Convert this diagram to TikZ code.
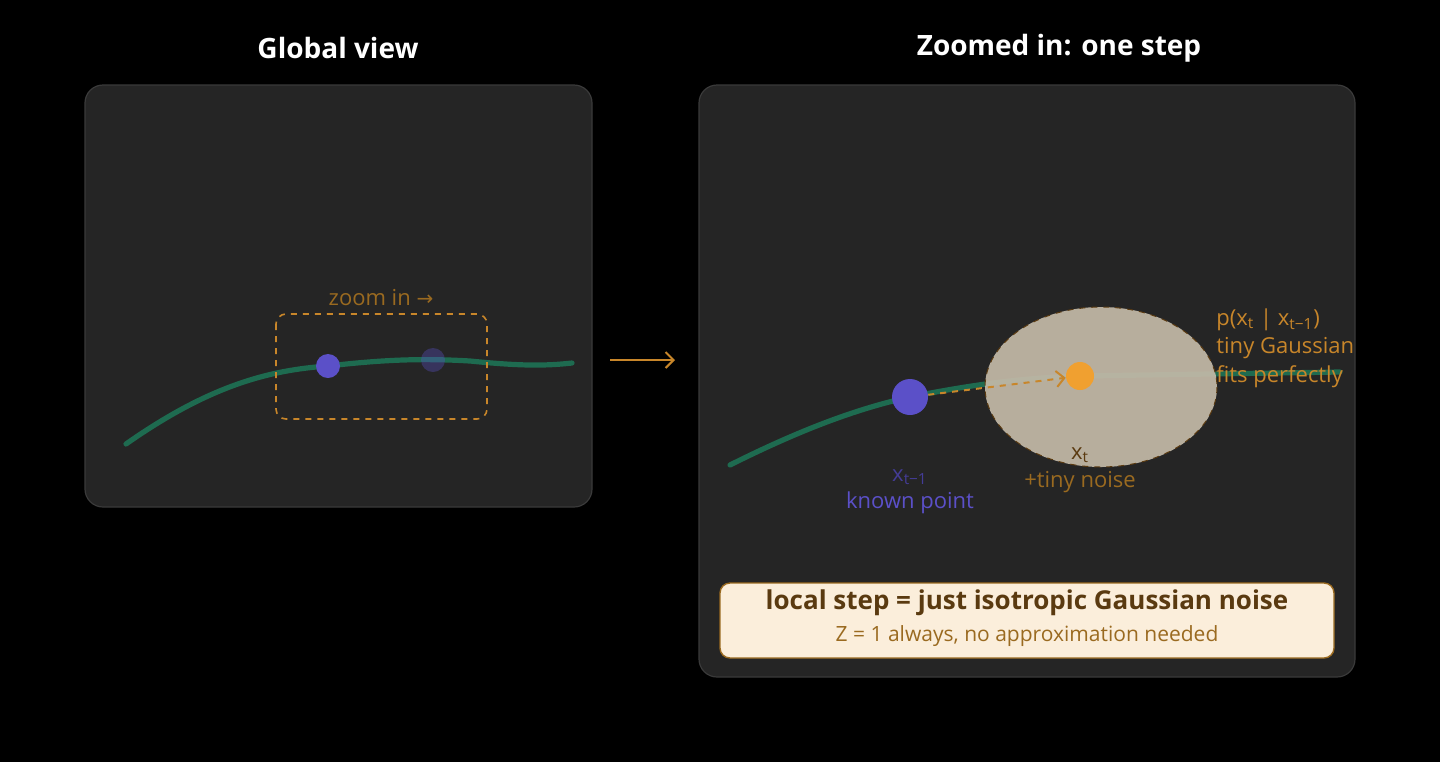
\documentclass[tikz,border=0pt]{standalone}
\usepackage{fontspec}
\setmainfont{Open Sans}
\newfontfamily\symfont{DejaVu Sans}
\usetikzlibrary{arrows.meta}
\definecolor{bgpanel}{HTML}{252525}
\definecolor{edgepanel}{HTML}{3A3A3A}
\definecolor{curvegreen}{HTML}{1E6B50}
\definecolor{ptblue}{HTML}{5B50C8}
\definecolor{ptorange}{HTML}{F0A030}
\definecolor{amber}{HTML}{C8862A}
\definecolor{darkamber}{HTML}{9A6A20}
\definecolor{brown}{HTML}{5A3A10}
\definecolor{cloud}{HTML}{C4BAA8}
\definecolor{cream}{HTML}{FBEEDB}
\tikzset{
  panel/.style={draw=edgepanel,fill=bgpanel,rounded corners=9pt,line width=0.6pt},
  title/.style={font=\fontsize{14}{16}\selectfont\bfseries,text=white},
  path/.style={draw=curvegreen,line width=2.6pt,line cap=round},
  lbl/.style={font=\fontsize{11}{13}\selectfont,inner sep=0pt}
}
\begin{document}
\begin{tikzpicture}[x=0.5pt,y=-0.5pt]
		\fill[black] (0,0) rectangle (1440,762);
		\useasboundingbox (0,0) rectangle (1440,762);
		% panels
		\draw[panel] (85,85) rectangle (592,507);
		\draw[panel] (699,85) rectangle (1355,677);
		\node[title] (tglobal) at (338,48) {Global view};
		\node[title] (tzoom) at (1059,48) {Zoomed in: one step};
		% global view
		\draw[path] (126,444) .. controls (210,385) and (270,370) .. (328,366) .. controls (380,360) and (420,358) .. (470,361) .. controls (520,366) and (545,366) .. (572,363);
		\fill[ptblue] (328,366) circle (12);
		\fill[ptblue,opacity=0.35] (433,360) circle (12);
		\draw[amber,dashed,line width=0.8pt,rounded corners=5pt] (276,314) rectangle (487,419);
		\node[lbl,text=darkamber] (zoomlbl) at (381,298) {zoom in {\symfont\fontsize{10}{12}\selectfont →}};
		\coordinate (g1) at (610,360);
		\coordinate (g2) at (675,360);
		\draw[amber,line width=1pt,-{Straight Barb[length=4pt]}] (g1) -- (g2);
		% zoomed view
		\draw[path] (730,465) .. controls (790,435) and (850,410) .. (910,397) .. controls (970,385) and (1020,378) .. (1080,376) -- (1340,372);
		\fill[cloud,opacity=0.92] (1101,387) ellipse (116 and 80);
		\draw[brown,dashed,line width=0.5pt] (1101,387) ellipse (116 and 80);
		\node[circle,fill=ptblue,minimum size=18pt,inner sep=0pt] (prev) at (910,397) {};
		\node[circle,fill=ptorange,minimum size=14pt,inner sep=0pt] (cur) at (1080,376) {};
		\draw[amber,dashed,line width=1pt,-{Straight Barb[length=4pt]}] (prev) -- (cur);
		\node[lbl,text=ptblue!75!black] (xprev) at (910,477) {x\textsubscript{t−1}};
		\node[lbl,text=ptblue] (known) at (910,503) {known point};
		\node[lbl,text=brown] (xcur) at (1080,455) {x\textsubscript{t}};
		\node[lbl,text=darkamber] (noise) at (1080,482) {+tiny noise};
		\node[lbl,text=amber,anchor=west] (pcond) at (1216,320) {p(x\textsubscript{t} | x\textsubscript{t−1})};
		\node[lbl,text=amber,anchor=west] (tiny) at (1216,348) {tiny Gaussian};
		\node[lbl,text=amber,anchor=west] (fits) at (1216,377) {fits perfectly};
		% summary box
		\draw[fill=cream,draw=darkamber,line width=0.7pt,rounded corners=5pt] (720,583) rectangle (1334,658);
		\node[font=\fontsize{13}{15}\selectfont\bfseries,text=brown] (sum1) at (1027,603) {local step = just isotropic Gaussian noise};
		\node[font=\fontsize{10.5}{12}\selectfont,text=darkamber] (sum2) at (1027,636) {Z = 1 always, no approximation needed};
	\end{tikzpicture}
\end{document}
